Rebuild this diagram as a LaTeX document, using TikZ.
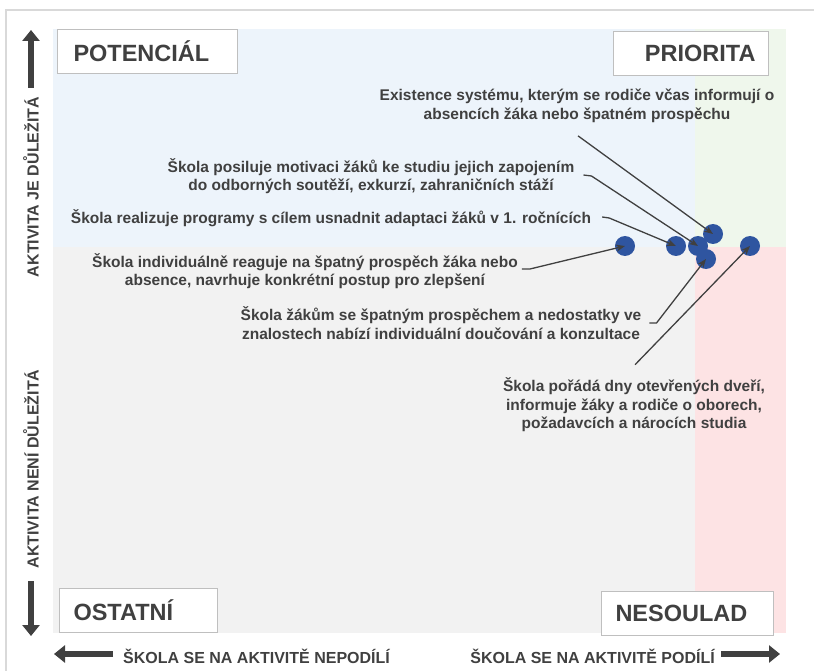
\documentclass[tikz,border=0pt]{standalone}
\usepackage{fontspec}
\setmainfont{Liberation Sans}
\usetikzlibrary{arrows.meta}

\definecolor{txtgray}{RGB}{64,64,64}
\definecolor{boxgray}{RGB}{191,191,191}
\definecolor{framegray}{RGB}{217,217,217}
\definecolor{bluebg}{RGB}{237,244,251}
\definecolor{greenbg}{RGB}{239,247,236}
\definecolor{graybg}{RGB}{242,242,242}
\definecolor{pinkbg}{RGB}{253,227,228}
\definecolor{dotblue}{RGB}{47,85,160}

\begin{document}
\begin{tikzpicture}[x=1pt,y=-1pt,
    every node/.style={text=txtgray},
    note/.style={align=center,font=\fontsize{15.5}{18.5}\selectfont\bfseries,inner sep=2pt},
    quad/.style={draw=boxgray,fill=white,line width=1pt,font=\fontsize{23.5}{26}\selectfont\bfseries,
                 minimum height=44pt,inner ysep=0pt,anchor=north west},
    bubble/.style={circle,fill=dotblue,minimum size=20pt,inner sep=0pt},
    conn/.style={draw=txtgray,line width=1.3pt,-{Stealth[length=9pt,width=7pt]}},
    axisarrow/.style={draw=txtgray,line width=6pt,-{Triangle[length=11pt,width=17pt]}},
    axislabel/.style={font=\fontsize{16}{18}\selectfont\bfseries,inner sep=0pt}]

    \useasboundingbox (0,0) rectangle (814,671);
    \fill[white] (0,0) rectangle (814,671);

    % frame
    \draw[framegray, line width=1.5pt] (6,671) -- (6,10) -- (814,10);

    % quadrants
    \fill[bluebg]  (53,29)  rectangle (695,247);
    \fill[greenbg] (695,29) rectangle (786,247);
    \fill[graybg]  (53,247) rectangle (695,633);
    \fill[pinkbg]  (695,247) rectangle (786,633);

    % quadrant labels
    \node[quad, minimum width=180pt, text width=148pt, inner xsep=16pt, align=left] (pot) at (57,29) {POTENCIÁL};
    \node[quad, minimum width=155pt, text width=129pt, inner xsep=13pt, align=right] (pri) at (613,31) {PRIORITA};
    \node[quad, minimum width=158pt, text width=130pt, inner xsep=14pt, align=left] (ost) at (59,588) {OSTATNÍ};
    \node[quad, minimum width=172pt, text width=144pt, inner xsep=14pt, align=left] (nes) at (601,591) {NESOULAD};

    % axes
    \node[axislabel, rotate=90] (imp) at (31,187) {AKTIVITA JE DŮLEŽITÁ};
    \node[axislabel, rotate=90] (nimp) at (31,469) {AKTIVITA NENÍ DŮLEŽITÁ};
    \node[axislabel, anchor=west] (nopart) at (123,656) {ŠKOLA SE NA AKTIVITĚ NEPODÍLÍ};
    \node[axislabel, anchor=east] (part) at (715,656) {ŠKOLA SE NA AKTIVITĚ PODÍLÍ};

    \coordinate (ytop) at (31,30);
    \coordinate (ybot) at (31,636);
    \coordinate (xleft) at (54,654);
    \coordinate (xright) at (780,654);
    \draw[axisarrow] (31,88) -- (ytop);
    \draw[axisarrow] (31,581) -- (ybot);
    \draw[axisarrow] (113,654) -- (xleft);
    \draw[axisarrow] (721,654) -- (xright);

    % activities
    \node[note] (exist) at (577,106) {Existence systému, kterým se rodiče včas informují o\\absencích žáka nebo špatném prospěchu};
    \node[note] (motiv) at (371,176) {Škola posiluje motivaci žáků ke studiu jejich zapojením\\do odborných soutěží, exkurzí, zahraničních stáží};
    \node[note] (adapt) at (331,218) {Škola realizuje programy s cílem usnadnit adaptaci žáků v 1. ročnících};
    \node[note] (indiv) at (305,271) {Škola individuálně reaguje na špatný prospěch žáka nebo\\absence, navrhuje konkrétní postup pro zlepšení};
    \node[note] (douc) at (441,323) {Škola žákům se špatným prospěchem a nedostatky ve\\znalostech nabízí individuální doučování a konzultace};
    \node[note] (dny) at (634,405) {Škola pořádá dny otevřených dveří,\\informuje žáky a rodiče o oborech,\\požadavcích a nárocích studia};

    % points
    \node[bubble] (d4) at (625,246) {};
    \node[bubble] (d3) at (676,246) {};
    \node[bubble] (d2) at (698,246) {};
    \node[bubble] (d1) at (713,234) {};
    \node[bubble] (d5) at (706,259) {};
    \node[bubble] (d6) at (750,246) {};

    % connectors
    \draw[conn] (exist.south) ++(1,11) -- (d1.center);
    \draw[conn] (motiv.east) ++(7,-1) -- ++(8,1) -- (d2.center);
    \draw[conn] (adapt.east) ++(9,-1) -- ++(7,1) -- (d3.center);
    \draw[conn] (indiv.east) ++(2,-2) -- ++(8,0) -- (d4.center);
    \draw[conn] (douc.east) ++(6,0) -- ++(7,0) -- (d5.center);
    \draw[conn] (dny.north) ++(1,-11) -- (d6.center);
\end{tikzpicture}
\end{document}
